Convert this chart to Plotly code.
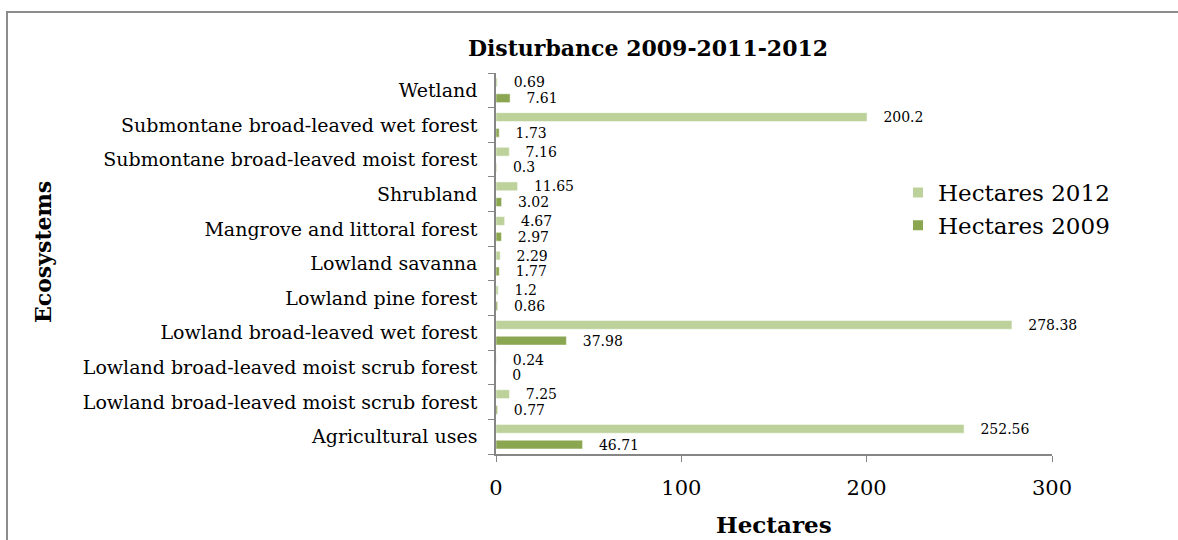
import plotly.graph_objects as go

categories = [
    "Agricultural uses",
    "Lowland broad-leaved moist scrub forest",
    "Lowland broad-leaved moist scrub forest",
    "Lowland broad-leaved wet forest",
    "Lowland pine forest",
    "Lowland savanna",
    "Mangrove and littoral forest",
    "Shrubland",
    "Submontane broad-leaved moist forest",
    "Submontane broad-leaved wet forest",
    "Wetland",
]
hectares_2009 = [46.71, 0.77, 0, 37.98, 0.86, 1.77, 2.97, 3.02, 0.3, 1.73, 7.61]
hectares_2012 = [252.56, 7.25, 0.24, 278.38, 1.2, 2.29, 4.67, 11.65, 7.16, 200.2, 0.69]
x_ticks = [0, 100, 200, 300]

FONT = "DejaVu Serif"
W, H = 1178, 540
L, R, T, B = 496, 126, 73, 86
PW, PH = W - L - R, H - T - B

def px_x(p):
    return (p - L) / PW

def px_y(p):
    return (H - B - p) / PH

pos = list(range(len(categories)))

fig = go.Figure()
fig.add_trace(go.Bar(
    y=pos, x=hectares_2009, orientation="h", name="Hectares 2009",
    marker=dict(color="#8BA650", line=dict(color="white", width=0.5)),
    texttemplate="   %{x}", textposition="outside", constraintext="none",
    cliponaxis=False, textfont=dict(family=FONT, size=14, color="black"),
))
fig.add_trace(go.Bar(
    y=pos, x=hectares_2012, orientation="h", name="Hectares 2012",
    marker=dict(color="#BCD29A", line=dict(color="white", width=0.5)),
    texttemplate="   %{x}", textposition="outside", constraintext="none",
    cliponaxis=False, textfont=dict(family=FONT, size=14, color="black"),
))

fig.update_layout(
    width=W, height=H,
    margin=dict(l=L, r=R, t=T, b=B),
    paper_bgcolor="white", plot_bgcolor="white",
    barmode="group", bargap=0.09, bargroupgap=0.44,
    font=dict(family=FONT, color="black"),
    title=dict(text="<b>Disturbance 2009-2011-2012</b>", x=648 / W, y=1 - 48 / H,
               xref="container", yref="container", xanchor="center", yanchor="middle",
               font=dict(family=FONT, size=22, color="black")),
    legend=dict(x=px_x(898), y=px_y(171), xanchor="left", yanchor="top",
                traceorder="reversed", font=dict(family=FONT, size=23, color="black"),
                bgcolor="rgba(0,0,0,0)", itemsizing="constant"),
    xaxis=dict(range=[0, 300], tickvals=x_ticks, ticks="outside", ticklen=6,
               tickcolor="#868686", showline=True, linecolor="#868686", linewidth=1.5,
               showgrid=False, zeroline=False, ticklabelstandoff=8,
               tickfont=dict(family=FONT, size=21, color="black")),
    yaxis=dict(range=[-0.5, len(categories) - 0.5], tickvals=pos, ticktext=categories,
               ticks="", ticklen=0, showline=True, linecolor="#868686", linewidth=1.5,
               showgrid=False, zeroline=False, ticklabelstandoff=13,
               tickfont=dict(family=FONT, size=19, color="black"),
               minor=dict(tickvals=[p - 0.5 for p in pos] + [pos[-1] + 0.5],
                          ticks="outside", ticklen=6, tickcolor="#868686", showgrid=False)),
    annotations=[
        dict(text="<b>Hectares</b>", x=0.5, y=px_y(524), xref="paper", yref="paper",
             xanchor="center", yanchor="middle", showarrow=False,
             font=dict(family=FONT, size=23, color="black")),
        dict(text="<b>Ecosystems</b>", x=px_x(43), y=px_y(252), xref="paper", yref="paper",
             xanchor="center", yanchor="middle", showarrow=False, textangle=-90,
             font=dict(family=FONT, size=22, color="black")),
    ],
    shapes=[dict(type="rect", xref="paper", yref="paper",
                 x0=px_x(7), x1=px_x(1220), y0=px_y(570), y1=px_y(12),
                 line=dict(color="#8C8C8C", width=2), fillcolor="rgba(0,0,0,0)", layer="below")],
)

fig.write_html("out.html")
